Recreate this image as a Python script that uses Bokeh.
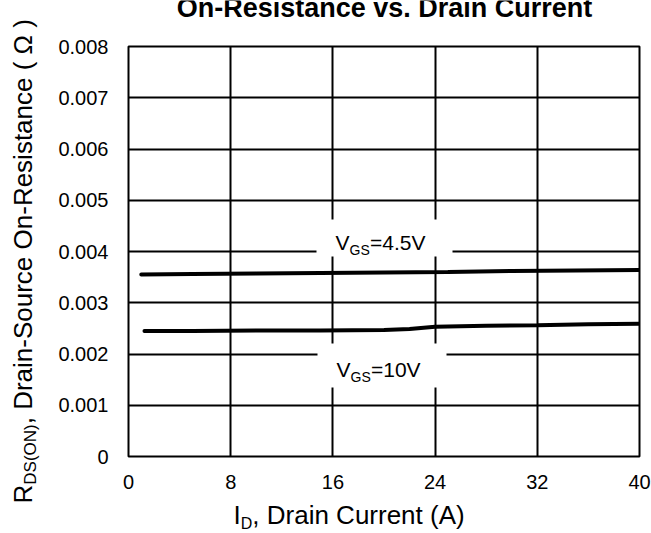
import math
from bokeh.plotting import figure
from bokeh.models import Label, BoxAnnotation, FixedTicker, Range1d
from bokeh.layouts import row, column
from bokeh.embed import file_html
from bokeh.resources import INLINE

# ---- data ----
x_ticks = [0, 8, 16, 24, 32, 40]
y_ticks = [0, 0.001, 0.002, 0.003, 0.004, 0.005, 0.006, 0.007, 0.008]
y_tick_labels = ["0", "0.001", "0.002", "0.003", "0.004", "0.005", "0.006", "0.007", "0.008"]

id_vgs45 = [1, 5, 10, 15, 20, 25, 30, 35, 40]
rds_vgs45 = [0.00355, 0.00356, 0.00357, 0.00358, 0.00359, 0.00360, 0.00362, 0.00363, 0.00364]

id_vgs10 = [1.25, 5, 10, 15, 20, 22, 24, 28, 32, 36, 40]
rds_vgs10 = [0.00245, 0.00245, 0.00246, 0.00246, 0.00247, 0.00249, 0.00253, 0.00255, 0.00256, 0.00258, 0.00259]

title_text = "On-Resistance vs. Drain Current"

FONT = "Liberation Sans"
K = 0.38  # baseline correction (fraction of font size)

# frame position in window pixels (used only to place annotations)
FX0, FX1 = 128, 639
FY0, FY1 = 46, 456
TOP = 30  # window y where the main plot starts


def dx(px):
    return (px - FX0) / (FX1 - FX0) * 40


def dy(py):
    return (FY1 - py) / (FY1 - FY0) * 0.008


def mk_label(fig, x, y, text, size, angle=0, style="normal", align="left"):
    fig.add_layout(Label(x=x, y=y, text=text, angle=angle,
                         text_font=FONT, text_font_size=f"{size}px", text_color="black",
                         text_font_style=style, text_align=align,
                         text_baseline="alphabetic"))


def blank(width, height, x0, x1, y0, y1, bl=0, br=0):
    f = figure(width=width, height=height, x_range=Range1d(x0, x1), y_range=Range1d(y1, y0),
               x_axis_type=None, y_axis_type=None, output_backend="svg",
               toolbar_location=None, min_border=0)
    f.min_border_left = bl
    f.min_border_right = br
    f.min_border_top = 0
    f.min_border_bottom = 0
    f.outline_line_color = None
    f.background_fill_color = "white"
    f.border_fill_color = "white"
    return f


# ---- main plot (window x 40..651, y TOP..500) ----
p = figure(width=611, height=500 - TOP, x_range=(0, 40), y_range=(0, 0.008),
           output_backend="svg", toolbar_location=None,
           min_border_left=FX0 - 40, min_border_right=651 - FX1,
           min_border_top=FY0 - TOP, min_border_bottom=500 - FY1)
p.background_fill_color = "white"
p.border_fill_color = "white"
p.outline_line_color = "black"
p.outline_line_width = 2

p.xaxis.ticker = FixedTicker(ticks=x_ticks)
p.yaxis.ticker = FixedTicker(ticks=y_ticks)
p.yaxis.major_label_overrides = dict(zip(y_ticks, y_tick_labels))
for ax in (p.xaxis, p.yaxis):
    ax.axis_line_color = None
    ax.major_tick_line_color = None
    ax.minor_tick_line_color = None
    ax.major_tick_out = 0
    ax.major_tick_in = 0
    ax.minor_tick_out = 0
    ax.minor_tick_in = 0
    ax.major_label_text_font = FONT
    ax.major_label_text_font_size = "20px"
    ax.major_label_text_color = "black"
    ax.axis_label = None
p.xaxis.major_label_standoff = 18
p.yaxis.major_label_standoff = 20

for g in (p.xgrid, p.ygrid):
    g.grid_line_color = "black"
    g.grid_line_width = 2
    g.grid_line_alpha = 1

# curves
p.line(id_vgs45, rds_vgs45, line_color="black", line_width=4, line_cap="round")
p.line(id_vgs10, rds_vgs10, line_color="black", line_width=4, line_cap="round")

# white boxes behind curve labels
p.add_layout(BoxAnnotation(left=dx(316), right=dx(452), top=dy(219), bottom=dy(256),
                           fill_color="white", fill_alpha=1, line_alpha=0))
p.add_layout(BoxAnnotation(left=dx(317), right=dx(446), top=dy(343), bottom=dy(387),
                           fill_color="white", fill_alpha=1, line_alpha=0))

# curve labels (baselines at 250 / 377 window px)
mk_label(p, dx(335), dy(250 - K * 21), "V", 21)
mk_label(p, dx(349), dy(255 - K * 14), "GS", 14)
mk_label(p, dx(369.5), dy(250 - K * 21), "=4.5V", 21)

mk_label(p, dx(336), dy(377 - K * 21), "V", 21)
mk_label(p, dx(350), dy(382 - K * 14), "GS", 14)
mk_label(p, dx(370.5), dy(377 - K * 21), "=10V", 21)

# ---- title (window x 40..651, y 0..TOP; frame x 128..639) ----
tf = blank(611, TOP, FX0, FX1, 0, TOP, bl=FX0 - 40, br=651 - FX1)
mk_label(tf, 384, 18 - K * 27, title_text, 27, style="bold", align="center")

# ---- x axis title (window x 40..651, y 500..533; frame x 128..639) ----
xf = blank(611, 33, FX0, FX1, 500, 533, bl=FX0 - 40, br=651 - FX1)
mk_label(xf, 233, 524 - K * 26, "I", 26)
mk_label(xf, 240.2, 529 - K * 16, "D", 16)
mk_label(xf, 251.8, 524 - K * 26, ", Drain Current (A)", 26)

# ---- y axis title (window x 0..40, y 0..533) ----
yf = blank(40, 533, 0, 40, 0, 533)
a = math.pi / 2
mk_label(yf, 32 - K * 26, 503, "R", 26, angle=a)
mk_label(yf, 36 - K * 17, 503 - 0.722 * 26, "DS(ON)", 17, angle=a)
mk_label(yf, 32 - K * 26, 503 - 0.722 * 26 - 3.555 * 17,
         ", Drain-Source On-Resistance ( \u03a9 )", 26, angle=a)

layout = row(yf, column(tf, p, xf))
open("out.html", "w").write(file_html(layout, INLINE))
